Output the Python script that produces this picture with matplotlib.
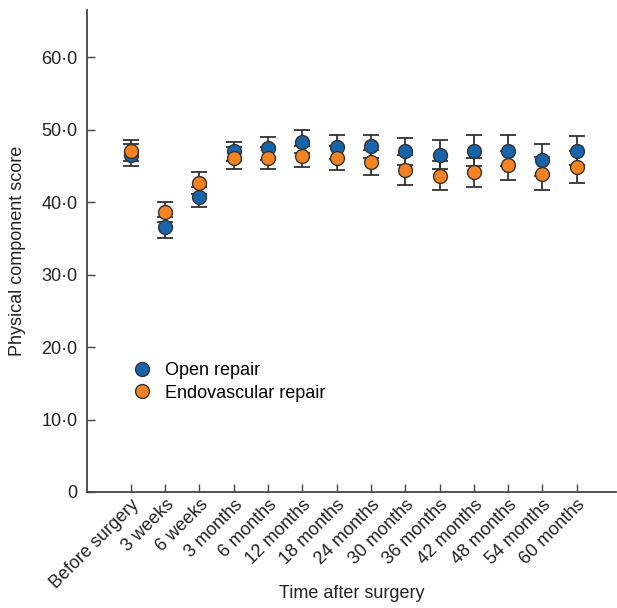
import matplotlib
matplotlib.use("Agg")
import matplotlib.pyplot as plt
import numpy as np

plt.rcParams['font.family'] = ['Liberation Sans', 'DejaVu Sans']

categories = ["Before surgery", "3 weeks", "6 weeks", "3 months", "6 months",
              "12 months", "18 months", "24 months", "30 months", "36 months",
              "42 months", "48 months", "54 months", "60 months"]
open_mean = [46.5, 36.5, 40.7, 47.0, 47.4, 48.3, 47.6, 47.7, 47.0, 46.5, 47.1, 47.1, 45.8, 47.1]
open_err = [1.5, 1.4, 1.4, 1.3, 1.6, 1.6, 1.7, 1.6, 1.9, 2.0, 2.1, 2.1, 2.2, 2.0]
endo_mean = [47.1, 38.6, 42.6, 46.1, 46.1, 46.3, 46.1, 45.5, 44.4, 43.6, 44.1, 45.1, 43.9, 44.8]
endo_err = [1.5, 1.4, 1.5, 1.5, 1.55, 1.5, 1.7, 1.7, 2.1, 2.0, 2.0, 2.0, 2.3, 2.2]
yticks = [0, 10, 20, 30, 40, 50, 60]
ytick_labels = ["0", "10·0", "20·0", "30·0", "40·0", "50·0", "60·0"]

blue = "#1764ab"
orange = "#f58220"
edge = "#333333"
fs = 13

fig = plt.figure(figsize=(6.17, 6.08), dpi=100)
ax = fig.add_axes([0.141, 0.1908, 0.857, 0.7928])

x = np.arange(len(categories))
for mean, err in [(open_mean, open_err), (endo_mean, endo_err)]:
    ax.errorbar(x, mean, yerr=err, fmt='none', ecolor=edge, elinewidth=1.3,
                capsize=5.5, capthick=1.3, zorder=2)
for mean, col, lab in [(open_mean, blue, "Open repair"),
                       (endo_mean, orange, "Endovascular repair")]:
    ax.plot(x, mean, 'o', ms=10, mfc=col, mec=edge, mew=1.0, ls='none',
            label=lab, zorder=3)

ax.set_xlim(-1.28, 14.14)
ax.set_ylim(0, 66.5)
ax.set_yticks(yticks)
ax.set_yticklabels(ytick_labels)
ax.set_xticks(x)
ax.set_xticklabels(categories, rotation=45, ha='right', rotation_mode='anchor')
ax.tick_params(axis='both', direction='in', length=6, width=1.0, color='#444444',
               labelsize=fs, labelcolor='#222222')
ax.tick_params(axis='y', pad=7)
ax.tick_params(axis='x', pad=3)
for s in ['top', 'right']:
    ax.spines[s].set_visible(False)
for s in ['left', 'bottom']:
    ax.spines[s].set_color('#444444')
    ax.spines[s].set_linewidth(1.3)

ax.set_ylabel("Physical component score", fontsize=fs, color='#222222', labelpad=11)
ax.set_xlabel("Time after surgery", fontsize=fs, color='#222222', labelpad=-5)

ax.legend(loc='center left', bbox_to_anchor=(0.074, 0.228), frameon=False,
          fontsize=fs, handletextpad=0.78, labelspacing=0.3, borderaxespad=0,
          handlelength=1.0)

fig.savefig("out.png", dpi=100)
